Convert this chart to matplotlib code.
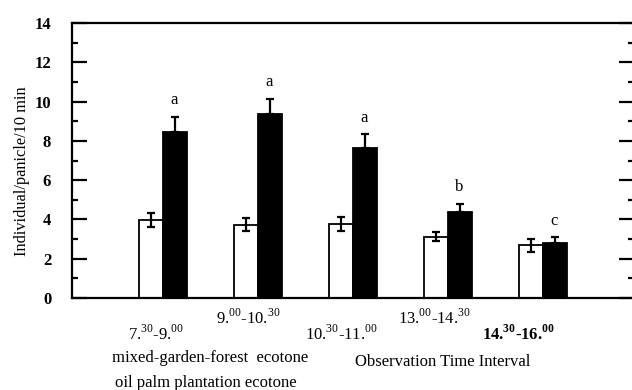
import numpy as np
import matplotlib
matplotlib.use("Agg")
import matplotlib.pyplot as plt
from matplotlib.ticker import MultipleLocator
import matplotlib.transforms as mtransforms

plt.rcParams['font.family'] = 'Liberation Serif'
plt.rcParams['mathtext.fontset'] = 'custom'
plt.rcParams['mathtext.rm'] = 'Liberation Serif'
plt.rcParams['mathtext.bf'] = 'Liberation Serif:bold'

# data
intervals = [r'7.$^{\mathrm{30}}$-9.$^{\mathrm{00}}$',
             r'9.$^{\mathrm{00}}$-10.$^{\mathrm{30}}$',
             r'10.$^{\mathrm{30}}$-11.$^{\mathrm{00}}$',
             r'13.$^{\mathrm{00}}$-14.$^{\mathrm{30}}$',
             r'14.$^{\mathbf{30}}$-16.$^{\mathbf{00}}$']
interval_bold = [False, False, False, False, True]
mixed_garden = [3.95, 3.72, 3.77, 3.12, 2.68]
mixed_garden_err = [0.36, 0.33, 0.34, 0.22, 0.32]
oil_palm = [8.45, 9.35, 7.62, 4.36, 2.80]
oil_palm_err = [0.78, 0.80, 0.71, 0.44, 0.29]
letters = ['a', 'a', 'a', 'b', 'c']

fig = plt.figure(figsize=(6.32, 3.90), dpi=100)
ax = fig.add_axes([72/632, 92/390, 562/632, 275/390])

x = np.arange(len(intervals))
w = 0.25
ax.bar(x - w/2, mixed_garden, w, color='white', edgecolor='black', linewidth=1.3, zorder=2)
ax.bar(x + w/2, oil_palm, w, color='black', edgecolor='black', linewidth=1.3, zorder=2)
ax.errorbar(x - w/2, mixed_garden, yerr=mixed_garden_err, fmt='none', ecolor='black',
            elinewidth=1.6, capsize=3, capthick=1.6, zorder=3)
ax.errorbar(x + w/2, oil_palm, yerr=[np.zeros(5), oil_palm_err], fmt='none', ecolor='black',
            elinewidth=1.6, capsize=3, capthick=1.6, zorder=3)

# significance letters above the black bars
for xi, v, e, s in zip(x, oil_palm, oil_palm_err, letters):
    ax.text(xi + w/2 - 0.01, v + e + 0.83, s, ha='center', va='center', fontsize=12)

ax.set_xlim(-0.958, 4.958)
ax.set_ylim(0, 14)
ax.yaxis.set_major_locator(MultipleLocator(2))
ax.yaxis.set_minor_locator(MultipleLocator(1))
ax.tick_params(axis='y', which='major', direction='in', length=11, width=1.6,
               right=True, labelsize=12, pad=15)
ax.tick_params(axis='y', which='minor', direction='in', length=4.5, width=1.6, right=True)
for lab in ax.get_yticklabels():
    lab.set_fontweight('bold')
ax.set_xticks([])
for sp in ax.spines.values():
    sp.set_linewidth(1.6)

# time interval labels, alternating heights
trans = mtransforms.blended_transform_factory(ax.transData, ax.transAxes)
label_x = [-0.074, 0.895, 1.874, 2.853, 3.737]
label_y = [-0.131, -0.073, -0.131, -0.073, -0.131]
for lx, ly, s, b in zip(label_x, label_y, intervals, interval_bold):
    ax.text(lx, ly, s, transform=trans, ha='center', va='center', fontsize=12,
            fontweight='bold' if b else 'normal')

ax.set_ylabel('Individual/panicle/10 min', fontsize=11.8)
ax.yaxis.set_label_coords(-0.075, 0.46)

fig.text(0.332, 0.082, 'mixed-garden-forest  ecotone', ha='center', va='center', fontsize=12)
fig.text(0.326, 0.018, 'oil palm plantation ecotone', ha='center', va='center', fontsize=12)
fig.text(0.701, 0.072, 'Observation Time Interval', ha='center', va='center', fontsize=12)

fig.savefig('out.png', dpi=100)
